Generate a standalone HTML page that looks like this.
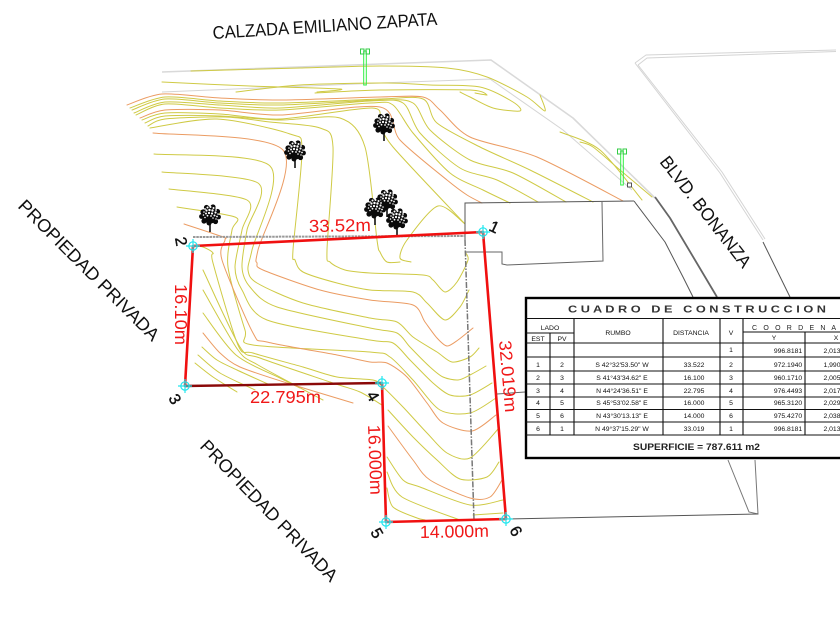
<!DOCTYPE html>
<html><head><meta charset="utf-8"><style>
html,body{margin:0;padding:0;background:#fff;width:840px;height:630px;overflow:hidden}
svg{display:block;font-family:"Liberation Sans",sans-serif;filter:blur(.3px)}
.y{fill:none;stroke:#cfca45;stroke-width:1;stroke-linejoin:round;stroke-linecap:round}
.o{fill:none;stroke:#eb9c63;stroke-width:1;stroke-linejoin:round;stroke-linecap:round}
.t{font-size:6.8px;fill:#111;text-anchor:middle}
.r{fill:#f01818;font-size:17.5px}
.k{fill:#111;font-size:18px}
.n{fill:#111;font-size:16px;stroke:#111;stroke-width:.4}
</style></head><body>
<svg width="840" height="630" viewBox="0 0 840 630" xmlns="http://www.w3.org/2000/svg">
<defs>
<g id="tree"><line x1="0" y1="6" x2="0" y2="17" stroke="#111" stroke-width="1.6"/>
<g fill="#0a0a0a"><circle r="8.5"/><circle cx="-7" cy="-3" r="2.6"/><circle cx="-3.500" cy="-7.500" r="2.6"/><circle cx="3" cy="-8" r="2.6"/><circle cx="7.500" cy="-3.500" r="2.6"/><circle cx="8.500" cy="2" r="2.4"/><circle cx="5.500" cy="6.500" r="2.6"/><circle cx="-1" cy="8" r="2.5"/><circle cx="-6" cy="6" r="2.6"/><circle cx="-8.500" cy="1.500" r="2.4"/></g>
<g fill="#fff"><circle cx="-5" cy="-6" r=".9"/><circle cx="-2.500" cy="-7.500" r="1"/><circle cx="0.500" cy="-8" r="1"/><circle cx="3.500" cy="-7" r="1"/><circle cx="6" cy="-5" r=".9"/><circle cx="-6" cy="-3" r=".8"/><circle cx="-3.500" cy="-4.500" r="1.100"/><circle cx="-0.500" cy="-5" r="1.200"/><circle cx="2.500" cy="-4.500" r="1.200"/><circle cx="5.500" cy="-2.500" r="1.100"/><circle cx="8" cy="-1" r=".8"/><circle cx="-4" cy="-1.500" r="1"/><circle cx="-1" cy="-2" r="1.100"/><circle cx="2" cy="-1.500" r="1.100"/><circle cx="4.500" cy=".5" r="1"/><circle cx="7" cy="1.500" r=".9"/><circle cx="-6.500" cy="0" r=".8"/><circle cx="-2.500" cy=".7" r=".9"/><circle cx="1" cy="1" r=".9"/><circle cx="-5" cy="2.500" r=".8"/><circle cx="3" cy="3" r=".8"/><circle cx="6" cy="4" r=".7"/></g></g>
<g id="mk" fill="none" stroke="#22e6ee" stroke-width="1.2"><circle r="4.2"/><path d="M-7 0H7M0 -7V7"/></g>
<g id="pole"><rect x="-1.3" y="0" width="2.6" height="34" fill="none" stroke="#33ee44" stroke-width="1"/><rect x="-4.5" y="-2" width="3.5" height="5" fill="none" stroke="#33cc44" stroke-width="1"/><rect x="1" y="-2" width="3.5" height="5" fill="none" stroke="#33cc44" stroke-width="1"/></g>
</defs>

<!-- road edges -->
<g fill="none" stroke-linejoin="round">
<polyline points="162,72 380,64 491,60 573,118 655,198" stroke="#d9d9d9" stroke-width="1.6"/>
<polyline points="162,92 380,83 490,79 563,130 632,190" stroke="#d5d5d5" stroke-width="1"/>
<polyline points="635,63 646,55 836,50" stroke="#d4d4d4" stroke-width="1"/>
<polyline points="638,65 647,58 836,51.5" stroke="#d4d4d4" stroke-width="1"/>
<polyline points="635,63 720,173 763,240" stroke="#d4d4d4" stroke-width="1"/>
<polyline points="638,65 722,172 765,239" stroke="#d4d4d4" stroke-width="1"/>
<polyline points="655,197 670,218 717,297" stroke="#666" stroke-width="1.8"/>
<polyline points="763,242 790,297" stroke="#555" stroke-width="1"/>
<polyline points="634,201 665,242 683,277 693,297" stroke="#555" stroke-width="1"/>
</g>

<!-- contours -->
<g id="contours">
<polyline class="y" points="191,71 300,68 380,66 447,68 487,77 527,97 545,111 540,95"/>
<polyline class="y" points="162,82 250,86 340,89 317,92"/>
<polyline class="y" points="236,92 300,85 387,83 430,85 480,87 513,102 520,111 493,108 470,97 460,92"/>
<polyline class="y" points="315,93 380,90 470,90 487,95 475,93"/>
<polyline class="o" points="127,105 162,94 220,98 280,100 380,97 423,97 440,110 470,137 537,157 623,201"/>
<polyline class="y" points="130,108 165,97 220,101 280,103 380,99 423,99 437,123 480,147 530,170 593,202"/>
<polyline class="y" points="132,110 165,99 220,103 280,105 380,100 413,103 430,130 470,160 513,173 566,202"/>
<polyline class="y" points="134,113 165,102 220,105 280,108 370,101 403,103 420,133 460,168 497,180 538,202"/>
<polyline class="y" points="136,115 165,104 220,108 280,110 370,103 393,105 413,133 450,173 483,190 510,203"/>
<polyline class="o" points="140,118 165,110 220,110 280,115 380,107 400,140 447,180 467,195 482,203"/>
<polyline class="y" points="142,120 165,113 220,114 280,119 372,108 380,123 393,147 465,224"/>
<polyline class="y" points="145,123 165,116 220,116 280,120 340,118 365,147 377,240 380,252 387,262 400,262"/>
<polyline class="y" points="148,126 165,119 225,117 270,122 320,128 333,147 327,250 330,262 345,270 370,273 423,275 433,280 445,292 457,282 468,260 465,252"/>
<polyline class="y" points="150,128 217,119 290,134 302,150 293,250 295,260 303,272 337,283 370,290 413,292 427,303 445,320 460,307 469,290"/>
<polyline class="y" points="411,262 400,258 407,240 438,206 465,224"/>
<polyline class="y" points="580,142 593,147 620,170 652,197"/>
<polyline class="y" points="560,132 600,150 642,200"/>
<polyline class="o" points="153,133 283,150 258,250 257,263 263,270 320,290 370,300 413,305 425,322 437,338 447,346 458,340 473,328"/>
<polyline class="y" points="154,154 270,166 252,250 248,270 257,283 303,303 370,318 397,322 413,337 437,352 452,362 470,357 479,348"/>
<polyline class="y" points="162,172 258,183 247,230 242,267 250,287 277,307 370,328 397,333 410,347 430,367 443,377 458,380 470,375 486,366"/>
<polyline class="y" points="169,189 247,200 242,230 235,267 242,290 267,320 370,340 393,343 410,360 433,383 450,395 470,395 492,383"/>
<polyline class="y" points="177,207 235,217 232,230 228,267 245,330 253,345 370,352 390,357 413,380 440,410 470,413 496,398"/>
<polyline class="o" points="184,224 223,237 225,240 222,260 253,333 267,342 337,355 370,362 387,363 407,377 427,403 443,423 472,431 496,415"/>
<polyline class="y" points="193,246 203,247 213,253 213,263 238,345 253,353 303,367 337,377 373,380 383,387 403,407 427,433 447,453 470,458 499,428"/>
<polyline class="y" points="203,270 240,347 260,358 333,383 360,392 382,405"/>
<polyline class="y" points="203,290 238,350 258,365 323,400"/>
<polyline class="y" points="203,313 236,355 280,378 300,388"/>
<polyline class="o" points="203,333 220,353 240,367 287,383 353,403"/>
<polyline class="y" points="202,347 217,360 237,370 270,385"/>
<polyline class="y" points="198,355 220,373 255,390"/>
<polyline class="y" points="195,363 213,377 237,392"/>
<polyline class="y" points="388,410 413,437 437,460 460,479 487,477 499,462"/>
<polyline class="o" points="388,426 413,460 430,480 470,498 490,497 502,480"/>
<polyline class="y" points="387,457 403,480 420,487 470,505 503,500"/>
<polyline class="y" points="387,472 402,497 460,520"/>
<polyline class="y" points="387,488 393,507 417,518 425,520"/>
<polyline class="y" points="473,515 503,513"/>
</g>

<!-- building / lot -->
<g fill="none" stroke="#666" stroke-width="1">
<polyline points="465,240 465,203 634,201" stroke="#555"/>
<polyline points="602,202 603,261 507,265 502,264 502,252 466,252"/>
<polyline points="497,394 525,392"/>
<polyline points="728,460 749,512 758,514 755,460" stroke="#777"/>
<polyline points="506,519 758,514" stroke="#555"/>
</g>
<line x1="193" y1="237" x2="465" y2="236" stroke="#999" stroke-width="2" stroke-dasharray="2.5 .8"/>
<line x1="465" y1="240" x2="474" y2="520" stroke="#777" stroke-width="1.5" stroke-dasharray="6 1.5 1.5 1.5"/>
<rect x="627.5" y="183" width="4" height="4" fill="#fff" stroke="#444" stroke-width=".9"/>

<!-- poles -->
<use href="#pole" x="365" y="51"/>
<use href="#pole" x="622" y="151"/>

<!-- trees -->
<use href="#tree" x="295" y="151"/>
<use href="#tree" x="384" y="124"/>
<use href="#tree" x="210" y="215"/>
<use href="#tree" x="387" y="200"/>
<use href="#tree" x="375" y="208"/>
<use href="#tree" x="397" y="219"/>

<!-- boundary -->
<g fill="none" stroke-linejoin="round" stroke-linecap="round">
<polyline points="483,232 193,246 185,386" stroke="#f01010" stroke-width="2.6"/>
<line x1="185" y1="386" x2="381" y2="383" stroke="#8a0808" stroke-width="2.4"/>
<polyline points="382,383 386,522 506,519 483,232" stroke="#f01010" stroke-width="2.6"/>
</g>
<use href="#mk" x="483" y="232"/><use href="#mk" x="193" y="246"/><use href="#mk" x="185" y="386"/><use href="#mk" x="382" y="383"/><use href="#mk" x="386" y="522"/><use href="#mk" x="506" y="519"/>

<!-- labels -->
<text class="k" transform="translate(213,39) rotate(-3.6)" textLength="225" lengthAdjust="spacingAndGlyphs">CALZADA EMILIANO ZAPATA</text>
<text class="k" transform="translate(17,207) rotate(45)" textLength="191" lengthAdjust="spacingAndGlyphs">PROPIEDAD PRIVADA</text>
<text class="k" transform="translate(199,447) rotate(46)" textLength="189" lengthAdjust="spacingAndGlyphs">PROPIEDAD PRIVADA</text>
<text class="k" transform="translate(659,162) rotate(52)" textLength="136" lengthAdjust="spacingAndGlyphs">BLVD. BONANZA</text>

<text class="n" transform="translate(488,230) rotate(25)">1</text>
<text class="n" transform="translate(175,238) rotate(80)">2</text>
<text class="n" transform="translate(168,398) rotate(60)">3</text>
<text class="n" transform="translate(366,395) rotate(60)">4</text>
<text class="n" transform="translate(370,532) rotate(60)">5</text>
<text class="n" transform="translate(509,530) rotate(60)">6</text>

<text class="r" transform="translate(309,232) rotate(-1)" textLength="62" lengthAdjust="spacingAndGlyphs">33.52m</text>
<text class="r" transform="translate(175,284) rotate(90)" textLength="61" lengthAdjust="spacingAndGlyphs">16.10m</text>
<text class="r" transform="translate(250,403)" textLength="71" lengthAdjust="spacingAndGlyphs">22.795m</text>
<text class="r" transform="translate(368,425) rotate(88)" textLength="70" lengthAdjust="spacingAndGlyphs">16.000m</text>
<text class="r" transform="translate(420,538) rotate(-1)" textLength="69" lengthAdjust="spacingAndGlyphs">14.000m</text>
<text class="r" transform="translate(499,341) rotate(85)" textLength="72" lengthAdjust="spacingAndGlyphs">32.019m</text>

<!-- table -->
<rect x="526" y="298" width="330" height="160" fill="#fff" stroke="#000" stroke-width="2.4"/>
<g stroke="#111" stroke-width="1.1" fill="none">
<path d="M526 318.5H840M526 343H840M526 357H840M526 371H840M526 384H840M526 397H840M526 409.500H840M526 422H840M526 435H840" />
<path d="M526 333H574M743 332H840"/>
<path d="M550 333V435M574 318V435M663 318V435M720 318V435M743 318V435M805 332V435"/>
</g>
<text x="568" y="312.500" font-size="10" font-weight="bold" fill="#333" textLength="258" lengthAdjust="spacingAndGlyphs">C U A D R O &#160;&#160;D E &#160;&#160;C O N S T R U C C I O N</text>
<g>
<text class="t" x="550" y="330">LADO</text><text class="t" x="538" y="341">EST</text><text class="t" x="562" y="341">PV</text>
<text class="t" x="618" y="335">RUMBO</text><text class="t" x="691" y="335">DISTANCIA</text><text class="t" x="731" y="335">V</text>
<text x="752" y="330" font-size="7" fill="#222" textLength="95" lengthAdjust="spacing">C O O R D E N A D</text>
<text class="t" x="774" y="340">Y</text><text class="t" x="836" y="340">X</text>
</g>
<g>
<text class="t" x="731" y="352">1</text><text class="t" x="788" y="353">996.8181</text><text class="t" x="832" y="353">2,013</text>
<text class="t" x="538" y="367">1</text><text class="t" x="562" y="367">2</text><text class="t" x="622" y="367">S 42°32'53.50" W</text><text class="t" x="694" y="367">33.522</text><text class="t" x="731" y="367">2</text><text class="t" x="788" y="367">972.1940</text><text class="t" x="832" y="367">1,990</text>
<text class="t" x="538" y="380">2</text><text class="t" x="562" y="380">3</text><text class="t" x="622" y="380">S 41°43'34.62" E</text><text class="t" x="694" y="380">16.100</text><text class="t" x="731" y="380">3</text><text class="t" x="788" y="380">960.1710</text><text class="t" x="832" y="380">2,005</text>
<text class="t" x="538" y="393">3</text><text class="t" x="562" y="393">4</text><text class="t" x="622" y="393">N 44°24'36.51" E</text><text class="t" x="694" y="393">22.795</text><text class="t" x="731" y="393">4</text><text class="t" x="788" y="393">976.4493</text><text class="t" x="832" y="393">2,017</text>
<text class="t" x="538" y="405">4</text><text class="t" x="562" y="405">5</text><text class="t" x="622" y="405">S 45°53'02.58" E</text><text class="t" x="694" y="405">16.000</text><text class="t" x="731" y="405">5</text><text class="t" x="788" y="405">965.3120</text><text class="t" x="832" y="405">2,029</text>
<text class="t" x="538" y="418">5</text><text class="t" x="562" y="418">6</text><text class="t" x="622" y="418">N 43°30'13.13" E</text><text class="t" x="694" y="418">14.000</text><text class="t" x="731" y="418">6</text><text class="t" x="788" y="418">975.4270</text><text class="t" x="832" y="418">2,038</text>
<text class="t" x="538" y="431">6</text><text class="t" x="562" y="431">1</text><text class="t" x="622" y="431">N 49°37'15.29" W</text><text class="t" x="694" y="431">33.019</text><text class="t" x="731" y="431">1</text><text class="t" x="788" y="431">996.8181</text><text class="t" x="832" y="431">2,013</text>
</g>
<text x="633" y="450" font-size="9.500" font-weight="bold" fill="#222" textLength="127" lengthAdjust="spacingAndGlyphs">SUPERFICIE = 787.611 m2</text>
</svg>
<script>
(function(){
var NS="http://www.w3.org/2000/svg";
var list=document.querySelectorAll("#contours polyline");
for(var i=0;i<list.length;i++){
  var el=list[i],p=el.getAttribute("points").trim().split(/\s+/).map(function(s){var a=s.split(",");return[+a[0],+a[1]]});
  var d="M"+p[0][0]+" "+p[0][1],k=0.14;
  for(var j=0;j<p.length-1;j++){
    var a=p[j-1]||p[j],b=p[j],c=p[j+1],e=p[j+2]||c;
    d+="C"+(b[0]+(c[0]-a[0])*k).toFixed(1)+" "+(b[1]+(c[1]-a[1])*k).toFixed(1)+" "+(c[0]-(e[0]-b[0])*k).toFixed(1)+" "+(c[1]-(e[1]-b[1])*k).toFixed(1)+" "+c[0]+" "+c[1];
  }
  var n=document.createElementNS(NS,"path");
  n.setAttribute("d",d);n.setAttribute("class",el.getAttribute("class"));
  el.parentNode.replaceChild(n,el);
}
})();
</script>
</body></html>
